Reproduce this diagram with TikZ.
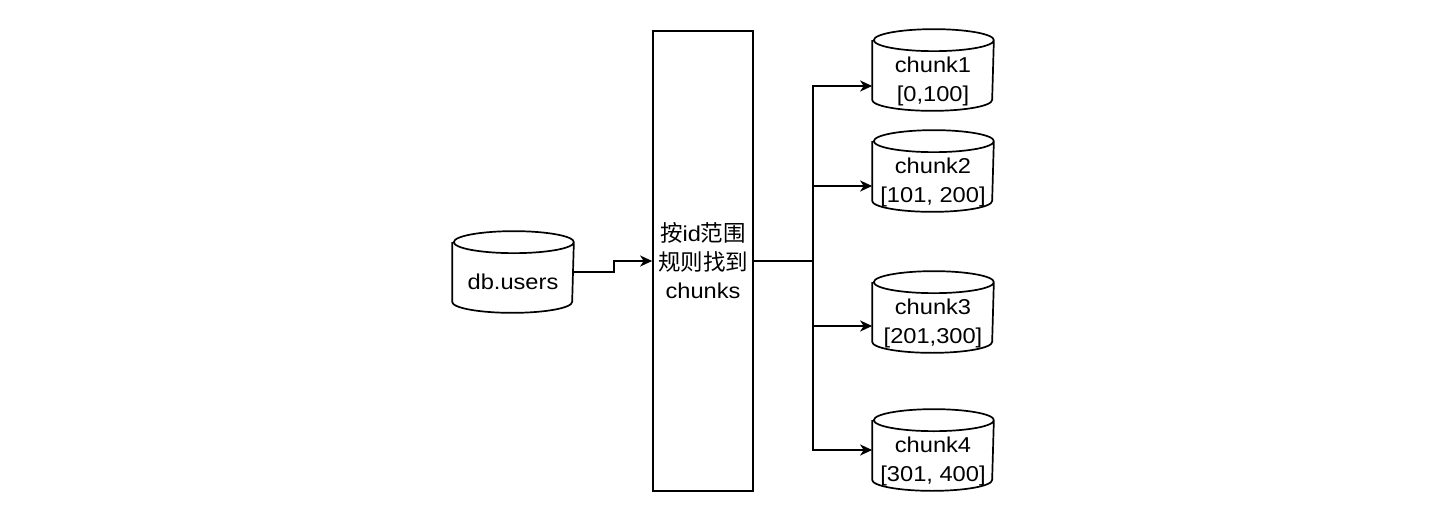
\documentclass[tikz,border=0pt]{standalone}
\usepackage{fontspec}
\setmainfont[FakeStretch=1.1]{Liberation Sans}
\newfontfamily\cjkfam{Noto Sans CJK SC}
\newcommand\cjk{\cjkfam\fontsize{22.5}{28.5}\selectfont}
\usetikzlibrary{arrows.meta}
\newcommand\drawcyl[1]{%
  \draw ([yshift=-11pt]#1.north west) -- ([yshift=11pt]#1.south west)
    arc[start angle=180,end angle=360,x radius=60pt,y radius=11pt]
    -- ([yshift=-11pt]#1.north east)
    arc[start angle=0,end angle=360,x radius=60pt,y radius=11pt];}
\begin{document}
\begin{tikzpicture}[x=1pt,y=1pt,line width=1.7pt,
  rulebox/.style={draw,minimum width=100pt,minimum height=460pt,inner sep=0,
    align=center,font=\fontsize{21.5}{28.5}\selectfont},
  cylbox/.style={minimum width=120pt,minimum height=80pt,inner sep=0},
  lbl/.style={align=center,font=\fontsize{21.5}{29}\selectfont,inner sep=0},
  arr/.style={-{Stealth[length=12pt,width=11pt,inset=3.5pt]}}]
\fill[white] (0,0) rectangle (1454,-524);
\useasboundingbox (0,0) rectangle (1454,-524);

\node[rulebox] (rule) at (703,-261) {{\cjk 按}id{\cjk 范围}\\{\cjk 规则找到}\\chunks};

\node[cylbox] (db) at (513,-272) {};
\drawcyl{db}
\node[lbl] (dbt) at ([yshift=-10pt]db.center) {db.users};

\node[cylbox] (c1) at (933,-70) {};
\drawcyl{c1}
\node[lbl] (c1t) at ([yshift=-11pt]c1.center) {chunk1\\{}[0,100]};

\node[cylbox] (c2) at (933,-171) {};
\drawcyl{c2}
\node[lbl] (c2t) at ([yshift=-11pt]c2.center) {chunk2\\{}[101, 200]};

\node[cylbox] (c3) at (933,-312) {};
\drawcyl{c3}
\node[lbl] (c3t) at ([yshift=-11pt]c3.center) {chunk3\\{}[201,300]};

\node[cylbox] (c4) at (933,-450) {};
\drawcyl{c4}
\node[lbl] (c4t) at ([yshift=-11pt]c4.center) {chunk4\\{}[301, 400]};

\draw[arr] (db.east) -- ++(40,0) |- (rule.west);
\coordinate (bus) at (813,-261);
\draw (rule.east) -- (bus);
\draw[arr] (bus) |- ([yshift=-16pt]c1.west);
\draw[arr] (bus) |- ([yshift=-15pt]c2.west);
\draw[arr] (bus) |- ([yshift=-14pt]c3.west);
\draw[arr] (bus) |- (c4.west);
\end{tikzpicture}
\end{document}
